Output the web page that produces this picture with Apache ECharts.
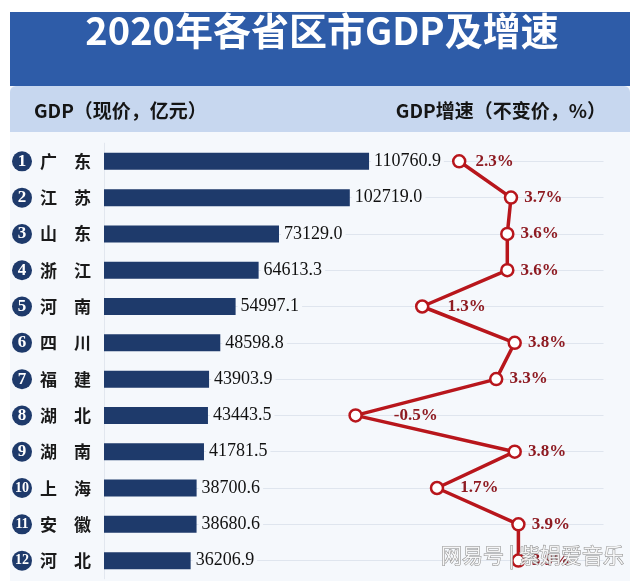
<!DOCTYPE html>
<html>
<head>
<meta charset="utf-8">
<script src="https://cdn.jsdelivr.net/npm/echarts@6/dist/echarts.min.js"></script>
<style>
html, body { margin: 0; padding: 0; background: #fff; }
#chart { width: 640px; height: 581px; }
</style>
</head>
<body>
<div id="chart"></div>
<script>
// 2020年各省区市GDP及增速
const provinces = ['广东', '江苏', '山东', '浙江', '河南', '四川', '福建', '湖北', '湖南', '上海', '安徽', '河北']
const gdp = [110760.9, 102719.0, 73129.0, 64613.3, 54997.1, 48598.8, 43903.9, 43443.5, 41781.5, 38700.6, 38680.6, 36206.9]
const growth = [2.3, 3.7, 3.6, 3.6, 1.3, 3.8, 3.3, -0.5, 3.8, 1.7, 3.9, 3.9]

const panelBg = '#f5f8fc'
const navy = '#1e3a6b'
const red = '#b8161c'

// line grid: 499.5px wide for -7.3..6.2, rows 36.3px apart
const pxPerUnit = 499.5 / 13.5
const rowGap = 36.3

// push the % label further out when both neighbours lie to the right, so it sits between the segments
const growthData = growth.map((v, i) => {
  const nb = [growth[i - 1], growth[i + 1]].filter(x => x !== undefined)
  const minDx = Math.min(...nb.map(x => (x - v) * pxPerUnit))
  const d = minDx > 0 ? Math.max(6, Math.ceil(9 * minDx / rowGap) - 4) : 6
  return { value: v, label: { distance: d } }
})

const chart = echarts.init(document.getElementById('chart'))

const option = {
  animation: false,
  backgroundColor: '#fff',
  graphic: [
    { type: 'rect', z: -10, shape: { x: 10, y: 86, width: 620, height: 495 }, style: { fill: panelBg } },
    { type: 'rect', z: -10, shape: { x: 10, y: 12, width: 620, height: 74 }, style: { fill: '#2e5ca8' } },
    { type: 'rect', z: -9, shape: { x: 10, y: 86, width: 620, height: 46, r: [6, 6, 0, 0] }, style: { fill: '#c7d7ef' } },
    {
      type: 'text', z: 10, x: 322, y: 31,
      style: {
        text: '2020年各省区市GDP及增速', align: 'center', verticalAlign: 'middle',
        fontSize: 38, fontWeight: 'bold', fontFamily: 'Noto Sans CJK SC', fill: '#fff',
        shadowBlur: 2, shadowColor: 'rgba(0,0,0,0.5)', shadowOffsetX: 1, shadowOffsetY: 1
      }
    },
    {
      type: 'text', z: 10, x: 34, y: 111,
      style: { text: 'GDP（现价，亿元）', verticalAlign: 'middle', fontSize: 19, fontWeight: 'bold', fontFamily: 'Noto Sans CJK SC', fill: '#151515' }
    },
    {
      type: 'text', z: 10, x: 606, y: 111,
      style: { text: 'GDP增速（不变价，%）', align: 'right', verticalAlign: 'middle', fontSize: 19, fontWeight: 'bold', fontFamily: 'Noto Sans CJK SC', fill: '#151515' }
    },
    {
      type: 'text', z: 100, x: 441, y: 555,
      style: {
        text: '网易号 | 紫娟爱音乐', verticalAlign: 'middle', fontSize: 21, fontFamily: 'Noto Sans CJK SC',
        fill: 'rgba(255,255,255,0.85)', stroke: '#8a8a8a', lineWidth: 1
      }
    }
  ],
  grid: [
    { left: 104, top: 143.2, width: 478.6, height: 435.6 },
    { left: 104, top: 161.3, width: 499.5, height: 399.3 }
  ],
  xAxis: [
    { gridIndex: 0, type: 'value', min: 0, max: 200000, show: false },
    { gridIndex: 1, type: 'value', min: -7.3, max: 6.2, show: false }
  ],
  yAxis: [
    {
      gridIndex: 0,
      type: 'category',
      inverse: true,
      data: provinces,
      axisTick: { show: false },
      axisLine: { show: true, lineStyle: { color: '#e2e7ef' } },
      axisLabel: {
        align: 'left',
        margin: 92,
        formatter: (v, i) => {
          const n = i + 1
          return (n < 10 ? '{n|' : '{m|') + n + '}{p|' + v[0] + '　' + v[1] + '}'
        },
        rich: {
          n: {
            width: 20, height: 20, lineHeight: 20, borderRadius: 10, backgroundColor: navy, color: '#fff',
            align: 'center', fontFamily: 'Liberation Serif', fontWeight: 'bold', fontSize: 17
          },
          m: {
            width: 20, height: 20, lineHeight: 20, borderRadius: 10, backgroundColor: navy, color: '#fff',
            align: 'center', fontFamily: 'Liberation Serif', fontWeight: 'bold', fontSize: 14
          },
          p: {
            padding: [0, 0, 0, 8], fontSize: 17, fontWeight: 'bold', fontFamily: 'Noto Sans CJK SC', color: '#1a1a1a'
          }
        }
      }
    },
    {
      gridIndex: 1,
      type: 'category',
      inverse: true,
      boundaryGap: false,
      data: provinces,
      axisTick: { show: false },
      axisLine: { show: false },
      axisLabel: { show: false },
      splitLine: { show: true, lineStyle: { color: '#dfe5ee', width: 1 } }
    }
  ],
  series: [
    {
      type: 'bar',
      xAxisIndex: 0,
      yAxisIndex: 0,
      data: gdp,
      barWidth: 17,
      itemStyle: { color: navy },
      label: {
        show: true,
        position: 'right',
        distance: 2,
        formatter: p => p.value.toFixed(1),
        fontFamily: 'Liberation Serif',
        fontSize: 18,
        color: '#111',
        backgroundColor: panelBg,
        padding: [0, 3]
      }
    },
    {
      type: 'line',
      xAxisIndex: 1,
      yAxisIndex: 1,
      data: growthData,
      symbol: 'circle',
      symbolSize: 12,
      z: 5,
      lineStyle: { color: red, width: 3.5 },
      itemStyle: { color: '#fff', borderColor: red, borderWidth: 2.5 },
      label: {
        show: true,
        position: 'right',
        distance: 6,
        formatter: p => p.value.toFixed(1) + '%',
        fontFamily: 'Liberation Serif',
        fontWeight: 'bold',
        fontSize: 17,
        color: '#8e1b22'
      }
    }
  ]
}

chart.setOption(option)
</script>
</body>
</html>
